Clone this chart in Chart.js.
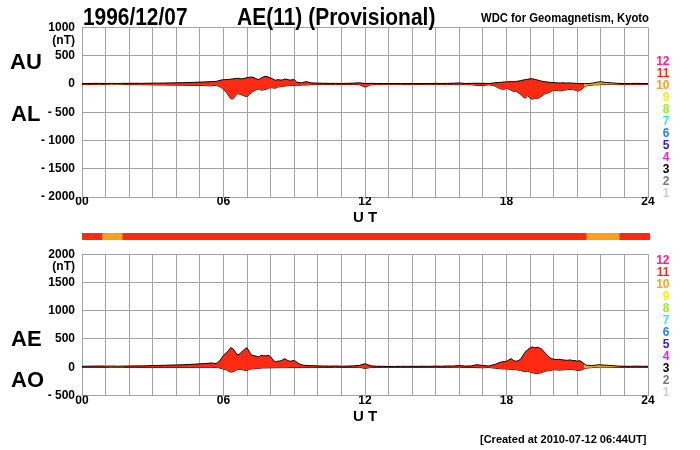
<!DOCTYPE html>
<html>
<head>
<meta charset="utf-8">
<script src="https://cdn.jsdelivr.net/npm/chart.js@4.4.0/dist/chart.umd.min.js"></script>
<style>
  body { margin: 0; background: #fff; }
  #page { position: relative; width: 700px; height: 450px; overflow: hidden;
          font-family: "Liberation Sans", Arial, sans-serif; font-weight: bold; color: #000; }
  .layer { position: absolute; left: 0; top: 0; }
  .txt { position: absolute; white-space: nowrap; line-height: 1; transform-origin: left top; }
  .big { font-size: 24px; }
  .side { font-size: 22px; }
  .ut { font-size: 15px; }
  .unit { font-size: 12px; text-align: right; }
  .cnt { position: absolute; font-size: 12px; line-height: 1; text-align: right; }
</style>
</head>
<body>
<div id="page">
  <canvas id="upper" class="layer" width="700" height="450"></canvas>
  <canvas id="lower" class="layer" width="700" height="450"></canvas>
  <canvas id="bar" class="layer" width="700" height="7" style="top:233px"></canvas>

  <div class="txt big" style="left:83px; top:4.7px; transform:scaleX(0.87)">1996/12/07</div>
  <div class="txt big" style="left:237px; top:4.7px; transform:scaleX(0.875)">AE(11) (Provisional)</div>
  <div class="txt" style="left:481px; top:11.8px; font-size:12px; transform:scaleX(0.94)">WDC for Geomagnetism, Kyoto</div>

  <div class="txt unit" style="right:625px; top:33.8px">(nT)</div>
  <div class="txt unit" style="right:625px; top:259.8px">(nT)</div>

  <div class="txt side" style="left:10px; top:51.4px">AU</div>
  <div class="txt side" style="left:11px; top:102.9px">AL</div>
  <div class="txt side" style="left:11px; top:328.1px">AE</div>
  <div class="txt side" style="left:11px; top:369.4px">AO</div>

  <div class="txt ut" style="left:353px; top:209.3px">U T</div>
  <div class="txt ut" style="left:353px; top:408.3px">U T</div>

  <div class="txt" style="left:480px; top:433.7px; font-size:11px">[Created at 2010-07-12 06:44UT]</div>
  <div id="legends"></div>
</div>

<script>
// time of each sample, hours UT
const times = [
  0, 0.25, 0.5, 0.75, 1, 1.25, 1.5, 1.75, 2, 2.25, 2.5, 2.75, 3, 3.25, 3.5, 3.75, 4, 4.25, 4.5, 4.75, 5, 5.25, 5.5,
  5.6, 5.7, 5.8, 5.9, 6.0, 6.1, 6.2, 6.3, 6.4, 6.5, 6.6, 6.7, 6.8, 6.9, 7.0, 7.1, 7.2, 7.3, 7.4, 7.5,
  7.6, 7.7, 7.8, 7.9, 8.0, 8.1, 8.2, 8.3, 8.4, 8.5, 8.6, 8.7, 8.8, 8.9, 9.0, 9.1, 9.2, 9.3, 9.4, 9.5,
  9.75, 10, 10.25, 10.5, 10.75, 11, 11.25, 11.5, 11.75, 12, 12.25, 12.5, 12.75, 13, 13.25, 13.5, 13.75,
  14, 14.25, 14.5, 14.75, 15, 15.25, 15.5, 15.75, 16, 16.25, 16.5, 16.75, 17, 17.25,
  17.4, 17.5, 17.6, 17.7, 17.8, 17.9, 18.0, 18.1, 18.2, 18.3, 18.4, 18.5, 18.6, 18.7, 18.8, 18.9, 19.0, 19.1, 19.2, 19.3,
  19.4, 19.5, 19.6, 19.7, 19.8, 19.9, 20.0, 20.1, 20.2, 20.3, 20.4, 20.5, 20.6, 20.7, 20.8, 20.9, 21.0, 21.1, 21.2, 21.3,
  21.4, 21.5, 21.6, 21.7, 21.8, 21.9, 22.0,
  22.25, 22.5, 22.75, 23, 23.25, 23.5, 23.75, 24
];
const auValues = [
  8, 8, 10, 10, 8, 10, 8, 10, 10, 12, 10, 12, 14, 14, 16, 18, 20, 22, 24, 28, 32, 36, 42,
  42, 47, 58, 68, 76, 76, 78, 84, 88, 95, 100, 92, 90, 100, 112, 118, 123, 108, 90, 78,
  108, 125, 135, 123, 105, 85, 65, 76, 70, 70, 88, 80, 68, 72, 76, 35, 25, 18, 30, 40,
  18, 14, 12, 10, 10, 8, 10, 14, 20, 8, 10, 8, 8, 6, 6, 8, 6,
  8, 6, 8, 8, 10, 8, 10, 12, 18, 8, 10, 12, 10, 8,
  15, 20, 25, 25, 30, 35, 35, 40, 42, 40, 45, 50, 58, 68, 76, 82, 92, 90, 82, 70,
  60, 48, 42, 36, 30, 26, 24, 20, 18, 18, 20, 16, 16, 18, 14, 12, 8, 6, 4, 4,
  6, 8, 12, 18, 28, 35, 38,
  25, 18, 10, 8, 8, 10, 8, 8
];
const alValues = [
  -8, -10, -10, -12, -10, -12, -10, -10, -12, -12, -14, -14, -16, -18, -18, -20, -20, -22, -24, -26, -28, -30, -34,
  -24, -29, -42, -62, -100, -140, -195, -262, -265, -215, -170, -182, -198, -215, -225, -180, -147, -120, -100, -88,
  -110, -105, -95, -76, -66, -70, -76, -55, -48, -42, -38, -32, -29, -27, -25, -23, -22, -20, -18, -18,
  -12, -12, -10, -10, -12, -10, -10, -10, -12, -55, -15, -10, -8, -8, -8, -8, -10,
  -8, -10, -10, -8, -10, -10, -12, -10, -12, -12, -14, -25, -28, -14,
  -25, -35, -58, -80, -92, -92, -80, -92, -112, -135, -125, -158, -182, -228, -252, -205, -250, -272, -250, -262,
  -240, -215, -180, -168, -155, -130, -115, -112, -120, -122, -110, -108, -100, -95, -100, -108, -125, -118, -90, -55,
  -35, -25, -25, -15, -15, -15, -10,
  -10, -10, -10, -10, -8, -10, -8, -10
];
const aeValues = [
  16, 18, 20, 22, 18, 22, 18, 20, 22, 24, 24, 26, 30, 32, 34, 38, 40, 44, 48, 54, 60, 66, 76,
  66, 70, 95, 150, 212, 250, 290, 345, 330, 270, 215, 240, 285, 320, 345, 270, 212, 205, 195, 183,
  210, 205, 200, 212, 185, 130, 95, 106, 110, 130, 150, 125, 106, 112, 118, 94, 60, 47, 35, 30,
  28, 24, 22, 20, 22, 18, 20, 24, 32, 62, 25, 18, 16, 14, 14, 16, 16,
  16, 16, 18, 16, 20, 18, 22, 22, 30, 20, 24, 45, 30, 22,
  40, 47, 65, 83, 94, 100, 106, 130, 153, 118, 106, 118, 142, 212, 271, 313, 342, 360, 342, 354,
  342, 319, 271, 224, 183, 153, 142, 136, 142, 136, 130, 124, 124, 130, 118, 118, 106, 118, 94, 59,
  35, 35, 30, 35, 35, 47, 41,
  35, 28, 20, 18, 16, 20, 16, 18
];
const aoValues = [
  0, -1, 0, -1, -1, -1, -1, 0, -1, 0, -2, -1, -1, -2, -1, -1, 0, 0, 0, 1, 2, 3, 4,
  -4, -6, -8, -20, -35, -40, -70, -85, -80, -60, -38, -35, -45, -53, -60, -35, -30, -25, -22, -18,
  -14, -12, -12, -10, -10, -10, -8, -8, -8, -7, -7, -7, -6, -6, -6, -6, -6, -5, -5, -5,
  -3, -2, -2, -2, -3, -2, -2, -1, 2, -22, -3, -2, -1, -1, -1, 0, -2,
  0, -2, -1, 0, 0, -1, -1, 1, 3, -2, -2, -6, -9, -3,
  -12, -15, -20, -25, -28, -30, -30, -35, -35, -45, -42, -50, -55, -70, -80, -70, -85, -100, -105, -110,
  -105, -95, -75, -65, -60, -52, -45, -45, -50, -50, -45, -45, -40, -38, -42, -45, -55, -55, -45, -25,
  -15, -10, -8, -2, 2, 6, 8,
  6, 3, 0, -1, 0, 0, 0, -1
];

// number of stations used, by time span
const stationStart = [0, 0.84, 1.7, 21.3, 22.7];
const stationEnd = [0.84, 1.7, 21.3, 22.7, 24];
const stationCount = [11, 10, 11, 10, 11];

const legendCounts = [12, 11, 10, 9, 8, 7, 6, 5, 4, 3, 2, 1];
const hourLabels = [0, 6, 12, 18, 24];

const COUNT_COLORS = {
  12: "#ff1e8c", 11: "#ff2a12", 10: "#ffa01a", 9: "#f2f200", 8: "#9cf01e", 7: "#30f0d2",
  6: "#1e82ff", 5: "#3414f0", 4: "#f020f0", 3: "#000000", 2: "#7a7a7a", 1: "#cccccc",
};
const GRID = "#a3a3a3";
const FONT = { family: "'Liberation Sans', Arial, sans-serif", size: 12, weight: "bold", lineHeight: 1 };

const countAt = (h) => {
  let c = stationCount[0];
  for (let i = 0; i < stationStart.length; i++) if (h >= stationStart[i]) c = stationCount[i];
  return c;
};
const pts = (vals) => times.map((t, i) => ({ x: t, y: vals[i] }));
const fmtY = (v) => (v < 0 ? `- ${-v}` : `${v}`);

function series(vals, fill) {
  return {
    data: pts(vals),
    borderColor: "#000",
    borderWidth: 1,
    pointRadius: 0,
    tension: 0,
    fill: fill,
    backgroundColor: COUNT_COLORS[11],
    segment: { backgroundColor: (ctx) => COUNT_COLORS[countAt(times[ctx.p0DataIndex])] },
  };
}

function panel(id, top, bottom, yMin, yMax, hi, lo) {
  new Chart(document.getElementById(id), {
    type: "line",
    data: { datasets: [series(hi, "+1"), series(lo, false)] },
    options: {
      responsive: false,
      animation: false,
      events: [],
      layout: { padding: { left: 0, right: 52, top: top, bottom: bottom } },
      plugins: { legend: { display: false }, tooltip: { enabled: false } },
      scales: {
        x: {
          type: "linear", min: 0, max: 24,
          afterFit: (s) => { s.height = 20; },
          ticks: {
            stepSize: 1, autoSkip: false, maxRotation: 0, padding: -1, color: "#000", font: FONT,
            callback: (v) => (hourLabels.includes(v) ? String(v).padStart(2, "0") : ""),
          },
          grid: { color: GRID, drawTicks: false },
          border: { color: GRID },
        },
        y: {
          min: yMin, max: yMax,
          afterFit: (s) => { s.width = 82; },
          ticks: { stepSize: 500, padding: 7, color: "#000", font: FONT, callback: fmtY },
          grid: { color: GRID, drawTicks: false },
          border: { color: GRID },
        },
      },
    },
  });
}

panel("upper", 27.4, 233, -2000, 1000, auValues, alValues);
panel("lower", 254.2, 34.5, -500, 2000, aeValues, aoValues);

// station-count colour bar
new Chart(document.getElementById("bar"), {
  type: "bar",
  data: {
    labels: ["n"],
    datasets: stationStart.map((s, i) => ({
      data: [[s, stationEnd[i]]],
      backgroundColor: COUNT_COLORS[stationCount[i]],
      grouped: false, barPercentage: 1, categoryPercentage: 1, borderWidth: 0,
    })),
  },
  options: {
    indexAxis: "y", responsive: false, animation: false, events: [],
    layout: { padding: { left: 82, right: 50, top: 0, bottom: 0 } },
    plugins: { legend: { display: false }, tooltip: { enabled: false } },
    scales: { x: { type: "linear", min: 0, max: 24, display: false }, y: { display: false } },
  },
});

// station-count legends at right of both panels
const legends = document.getElementById("legends");
[[65.3, 12.03], [263.8, 12.06]].forEach(([base, step]) => {
  legendCounts.forEach((n, i) => {
    const el = document.createElement("div");
    el.className = "cnt";
    el.style.right = "30.5px";
    el.style.top = `${base + i * step - 10.16}px`;
    el.style.color = COUNT_COLORS[n];
    el.textContent = n;
    legends.appendChild(el);
  });
});
</script>
</body>
</html>
